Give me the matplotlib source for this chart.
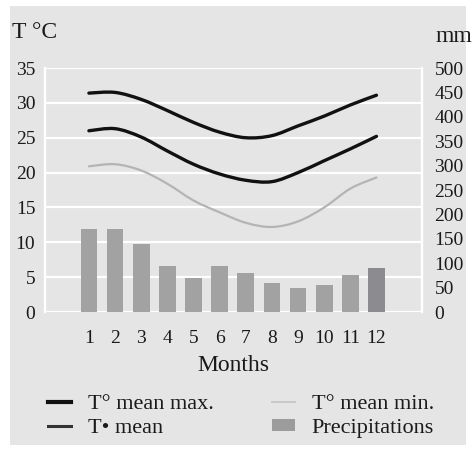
import numpy as np
import matplotlib
matplotlib.use("Agg")
import matplotlib.pyplot as plt
from matplotlib.path import Path
from matplotlib.patches import PathPatch, Rectangle
from matplotlib.lines import Line2D

plt.rcParams['font.family'] = ['Liberation Serif', 'DejaVu Serif']

months = [1, 2, 3, 4, 5, 6, 7, 8, 9, 10, 11, 12]
t_max = [31.4, 31.5, 30.5, 28.9, 27.2, 25.8, 25.0, 25.3, 26.7, 28.1, 29.7, 31.1]
t_mean = [26.0, 26.3, 25.1, 23.1, 21.2, 19.8, 18.9, 18.7, 20.0, 21.7, 23.4, 25.2]
t_min = [20.9, 21.2, 20.3, 18.4, 16.0, 14.3, 12.8, 12.2, 13.0, 15.0, 17.7, 19.3]
precip = [170, 170, 140, 95, 70, 95, 80, 60, 50, 55, 75, 90]
temp_ticks = [0, 5, 10, 15, 20, 25, 30, 35]
mm_ticks = [0, 50, 100, 150, 200, 250, 300, 350, 400, 450, 500]

BG = '#e5e5e5'
TEXT = '#1a1a1a'


def smooth_path(x, y):
    # Catmull-Rom segments written as cubic Bezier curves
    p = np.column_stack([x, y]).astype(float)
    ext = np.vstack([p[0], p, p[-1]])
    verts = [p[0]]
    codes = [Path.MOVETO]
    for i in range(len(p) - 1):
        p0, p1, p2, p3 = ext[i], ext[i + 1], ext[i + 2], ext[i + 3]
        verts += [p1 + (p2 - p0) / 6, p2 - (p3 - p1) / 6, p2]
        codes += [Path.CURVE4] * 3
    return Path(verts, codes)


fig = plt.figure(figsize=(4.73, 4.49), dpi=100)
fig.patch.set_facecolor('white')
fig.patches.append(Rectangle((10 / 473, 4 / 449), 456 / 473, 439 / 449,
                             transform=fig.transFigure, facecolor=BG,
                             edgecolor='none', zorder=-10))

ax = fig.add_axes([0.0951, 0.3051, 0.797, 0.5434])
ax.set_facecolor('none')
ax2 = ax.twinx()
ax2.set_facecolor('none')

ax.set_xlim(-0.68, 13.74)
ax.set_ylim(0, 35)
ax2.set_ylim(0, 500)

# white grid on the precipitation axis so the bars sit on top of it
for t in temp_ticks:
    ax2.axhline(t * 500 / 35, color='white', lw=1.6, zorder=0)

ax2.bar(months, precip, width=0.64, color=['#a2a2a2'] * 11 + ['#8c8c90'], zorder=1)

ax.set_zorder(ax2.get_zorder() + 1)
ax.patch.set_visible(False)
ax.add_patch(PathPatch(smooth_path(months, t_min), fill=False, edgecolor='#b4b4b4',
                       lw=1.6, capstyle='round'))
ax.add_patch(PathPatch(smooth_path(months, t_mean), fill=False, edgecolor='#111111',
                       lw=2.4, capstyle='round'))
ax.add_patch(PathPatch(smooth_path(months, t_max), fill=False, edgecolor='#111111',
                       lw=2.4, capstyle='round'))

for a in (ax, ax2):
    for side in ('top', 'bottom'):
        a.spines[side].set_visible(False)
    a.spines['left'].set_color('white')
    a.spines['right'].set_color('white')
    a.spines['left'].set_linewidth(1.6)
    a.spines['right'].set_linewidth(1.6)
    a.tick_params(length=0, labelsize=14, colors=TEXT)

ax.set_yticks(temp_ticks)
ax.tick_params(axis='y', pad=7)
ax2.set_yticks(mm_ticks)
ax2.tick_params(axis='y', pad=9)
ax.set_xticks(months)
ax.tick_params(axis='x', pad=13)
ax.set_xlabel('Months', fontsize=17, color=TEXT, labelpad=6)

fig.text(12 / 473, 1 - 32 / 449, 'T °C', fontsize=17, va='center', ha='left', color=TEXT)
fig.text(472 / 473, 1 - 37 / 449, 'mm', fontsize=17, va='center', ha='right', color=TEXT)

handles = [
    Line2D([], [], color='#111111', lw=3.0),
    Line2D([], [], color='#333333', lw=2.2),
    Line2D([], [], color='#c8c8c8', lw=1.4),
    Rectangle((0, 0), 1, 1, facecolor='#9c9c9c'),
]
labels = ['T° mean max.', 'T• mean', 'T° mean min.', 'Precipitations']
fig.legend(handles, labels, ncol=2, loc='upper left',
           bbox_to_anchor=(28 / 473, 1 - 375 / 449), frameon=False,
           fontsize=16, handlelength=1.05, handletextpad=0.75,
           columnspacing=2.6, labelspacing=0.2, handleheight=0.5,
           labelcolor=TEXT)

fig.savefig('out.png', dpi=100)
